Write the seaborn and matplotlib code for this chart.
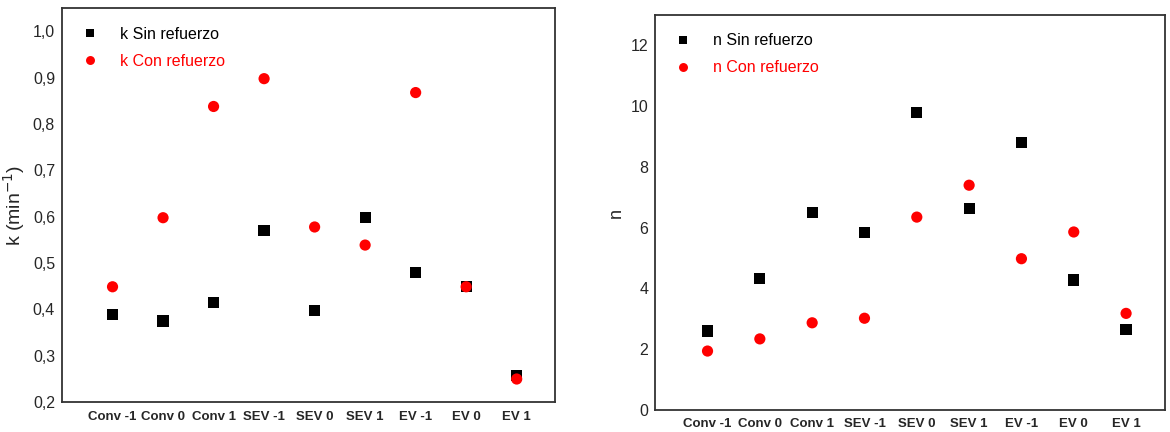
import seaborn as sns
import matplotlib.pyplot as plt
import pandas as pd

# Categories and values
muestras = ['Conv -1', 'Conv 0', 'Conv 1', 'SEV -1', 'SEV 0', 'SEV 1', 'EV -1', 'EV 0', 'EV 1']
k_sin = [0.39, 0.375, 0.415, 0.57, 0.397, 0.598, 0.479, 0.449, 0.258]
k_con = [0.449, 0.598, 0.838, 0.898, 0.578, 0.539, 0.868, 0.449, 0.25]
n_sin = [2.6, 4.32, 6.5, 5.83, 9.8, 6.64, 8.8, 4.28, 2.65]
n_con = [1.94, 2.34, 2.87, 3.02, 6.35, 7.4, 4.98, 5.86, 3.18]

sns.set_style('white')
plt.rcParams['font.family'] = ['Liberation Sans', 'DejaVu Sans']

fig = plt.figure(figsize=(11.7, 4.32), dpi=100)
ax1 = fig.add_axes([0.053, 0.069, 0.421, 0.912])
ax2 = fig.add_axes([0.56, 0.051, 0.436, 0.914])


def panel(ax, sin, con, prefix):
    df = pd.DataFrame({
        'muestra': muestras * 2,
        'valor': sin + con,
        'serie': [prefix + ' Sin refuerzo'] * len(sin) + [prefix + ' Con refuerzo'] * len(con),
    })
    sns.scatterplot(data=df, x='muestra', y='valor', hue='serie', style='serie',
                    palette=['black', 'red'], markers=['s', 'o'], s=65,
                    linewidth=0, ax=ax)
    handles, labels = ax.get_legend_handles_labels()
    ax.legend(handles, labels, loc='upper left', frameon=False, fontsize=11.5,
              labelcolor=['black', 'red'], markerscale=0.8, handletextpad=0.9,
              labelspacing=0.75, bbox_to_anchor=(-0.005, 0.99))
    ax.set_xlim(-1, 8.75)
    ax.set_xlabel('')
    for lbl in ax.get_xticklabels():
        lbl.set_fontweight('bold')
        lbl.set_fontsize(9.5)
    ax.tick_params(axis='y', labelsize=11.5, length=0, pad=5)
    ax.tick_params(axis='x', length=0, pad=6)
    for sp in ax.spines.values():
        sp.set_color('#333333')
        sp.set_linewidth(1.3)


panel(ax1, k_sin, k_con, 'k')
ax1.set_ylim(0.2, 1.05)
ax1.set_yticks([0.2, 0.3, 0.4, 0.5, 0.6, 0.7, 0.8, 0.9, 1.0])
ax1.set_yticklabels(['0,2', '0,3', '0,4', '0,5', '0,6', '0,7', '0,8', '0,9', '1,0'])
ax1.set_ylabel('k (min$^{-1}$)', fontsize=14)

panel(ax2, n_sin, n_con, 'n')
ax2.set_ylim(0, 13)
ax2.set_yticks([0, 2, 4, 6, 8, 10, 12])
ax2.set_ylabel('n', fontsize=13)

fig.savefig('out.png', dpi=100)
